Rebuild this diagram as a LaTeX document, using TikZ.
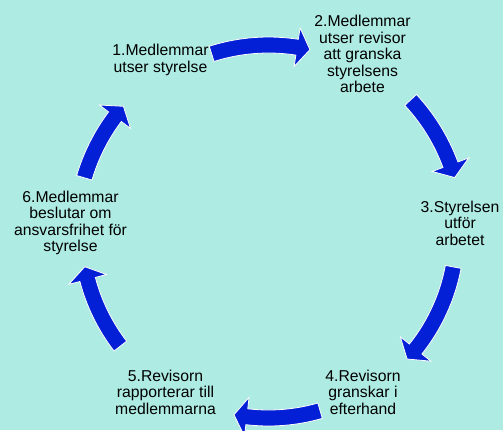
\documentclass[tikz,border=0pt]{standalone}
\usepackage{fontspec}
\setmainfont{Liberation Sans}
\usetikzlibrary{calc}
\definecolor{bg}{RGB}{174,235,227}
\definecolor{arrblue}{RGB}{3,32,214}
\newcommand\cycarrow[3]{%
  \pgfmathsetmacro\hb{#2+4}%
  \pgfmathsetmacro\ro{#3+8}\pgfmathsetmacro\ri{#3-8}%
  \pgfmathsetmacro\rbo{#3+19.5}\pgfmathsetmacro\rbi{#3-19.5}%
  \filldraw[cyc] ($(C)+(#1:\ro)$) arc[start angle=#1, end angle=\hb, radius=\ro]
    -- ($(C)+(\hb:\rbo)$) -- ($(C)+(#2:#3)$) -- ($(C)+(\hb:\rbi)$)
    -- ($(C)+(\hb:\ri)$) arc[start angle=\hb, end angle=#1, radius=\ri] -- cycle;}
\begin{document}
\begin{tikzpicture}[x=0.75pt,y=0.75pt,
  lbl/.style={align=center, inner sep=0pt, font=\fontsize{11.8pt}{12.45pt}\selectfont, text=black},
  cyc/.style={fill=arrblue, draw=white, line width=0.6pt, line join=miter}]
\useasboundingbox (0,0) rectangle (503,430);
\clip (0,0) rectangle (503,430);
\fill[bg] (0,0) rectangle (503,430);
\coordinate (C) at (268.5,198);
\cycarrow{107.7}{77.2}{187}
\cycarrow{42.9}{16.3}{194}
\cycarrow{-10.7}{-42.5}{188}
\cycarrow{-73.9}{-100.7}{186}
\cycarrow{217.6}{190.7}{187}
\cycarrow{163.6}{139.1}{192}
\node[lbl] (s1) at (160.5,370) {1.Medlemmar\\utser styrelse};
\node[lbl] (s2) at (362.5,376) {2.Medlemmar\\utser revisor\\att granska\\styrelsens\\arbete};
\node[lbl] (s3) at (460,207) {3.Styrelsen\\utför\\arbetet};
\node[lbl] (s4) at (363,38) {4.Revisorn\\granskar i\\efterhand};
\node[lbl] (s5) at (165.5,38) {5.Revisorn\\rapporterar till\\medlemmarna};
\node[lbl] (s6) at (70.5,207) {6.Medlemmar\\beslutar om\\ansvarsfrihet för\\styrelse};
\end{tikzpicture}
\end{document}
